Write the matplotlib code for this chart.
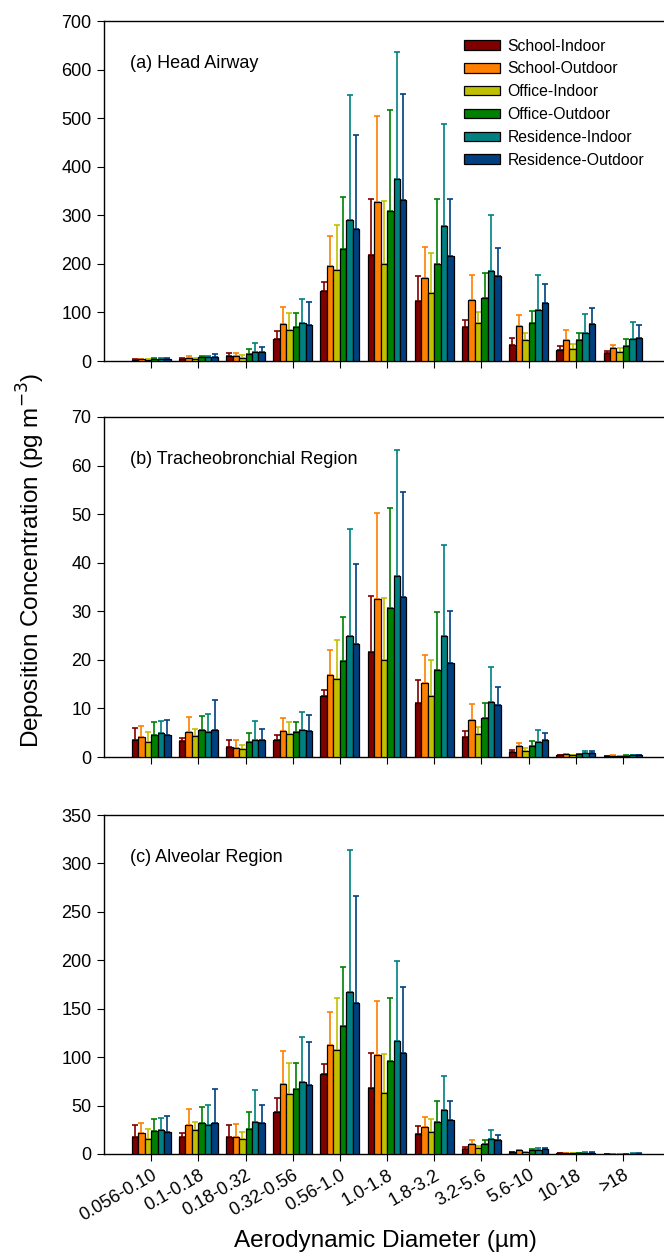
import numpy as np
import matplotlib.pyplot as plt

'''Data read off the reference chart'''
sizes = ['0.056-0.10', '0.1-0.18', '0.18-0.32', '0.32-0.56', '0.56-1.0', '1.0-1.8',
         '1.8-3.2', '3.2-5.6', '5.6-10', '10-18', '>18']
sites = ['School-Indoor', 'School-Outdoor', 'Office-Indoor', 'Office-Outdoor',
         'Residence-Indoor', 'Residence-Outdoor']
colors = ['#800000', '#ff8000', '#c0c000', '#008000', '#008080', '#004080']

# (a) Head airway: mean and top of error bar, one row per site
head_mean = [[3, 4, 10, 45, 144, 218, 124, 69, 33, 23, 17],
             [4, 6, 10, 76, 196, 327, 171, 126, 73, 43, 26],
             [3, 5, 7, 64, 188, 200, 141, 78, 43, 24, 18],
             [5, 9, 14, 70, 231, 308, 200, 129, 78, 44, 31],
             [5, 8, 18, 78, 291, 375, 278, 185, 104, 58, 45],
             [5, 8, 18, 75, 272, 332, 216, 174, 119, 76, 47]]
head_upper = [[4, 6, 17, 61, 162, 334, 176, 85, 48, 31, 21],
              [5, 10, 17, 111, 257, 505, 234, 177, 95, 64, 32],
              [4, 7, 13, 99, 281, 329, 222, 100, 58, 34, 26],
              [6, 11, 24, 99, 337, 516, 333, 181, 103, 57, 45],
              [6, 11, 38, 128, 548, 636, 487, 301, 178, 97, 80],
              [6, 15, 29, 121, 465, 550, 334, 233, 159, 109, 74]]

# (b) Tracheobronchial region
tb_mean = [[3.4, 3.2, 2.0, 3.4, 12.5, 21.6, 11.2, 4.2, 1.0, 0.4, 0.2],
           [4.2, 5.2, 1.9, 5.4, 16.9, 32.5, 15.3, 7.7, 2.2, 0.6, 0.25],
           [3.0, 4.3, 1.7, 4.7, 16.0, 19.9, 12.6, 4.7, 1.3, 0.4, 0.2],
           [4.6, 5.6, 3.0, 5.1, 19.7, 30.6, 17.9, 8.0, 2.3, 0.6, 0.3],
           [4.9, 5.2, 3.6, 5.6, 24.9, 37.2, 24.9, 11.4, 3.1, 0.75, 0.35],
           [4.5, 5.5, 3.6, 5.4, 23.3, 33.0, 19.3, 10.8, 3.6, 0.8, 0.35]]
tb_upper = [[6.0, 3.9, 3.4, 4.5, 13.8, 33.2, 15.8, 5.3, 1.5, 0.5, 0.3],
            [6.4, 8.2, 3.4, 8.0, 22.0, 50.2, 20.9, 11.0, 2.9, 0.7, 0.35],
            [5.1, 5.8, 2.5, 7.2, 24.1, 32.8, 19.9, 6.1, 1.9, 0.5, 0.3],
            [7.2, 8.5, 4.9, 7.2, 28.8, 51.3, 29.8, 11.2, 3.2, 0.7, 0.4],
            [7.5, 8.8, 7.4, 9.2, 46.9, 63.3, 43.7, 18.6, 5.5, 1.2, 0.45],
            [7.7, 11.7, 5.7, 8.7, 39.8, 54.6, 30.0, 14.4, 4.9, 1.2, 0.45]]

# (c) Alveolar region
alv_mean = [[17.2, 17.2, 17.9, 43, 82.2, 67.8, 20.3, 5.5, 1.7, 0.8, 0.3],
            [21.3, 29.9, 17.5, 71.9, 112.2, 101.9, 27.9, 10.0, 3.8, 1.0, 0.4],
            [15.1, 24.4, 15.1, 61.6, 107.4, 62.6, 23.1, 6.2, 2.1, 0.7, 0.3],
            [23.4, 31.7, 26.2, 67.4, 131.8, 96.0, 32.7, 10.3, 4.1, 1.0, 0.4],
            [24.4, 29.6, 32.7, 74, 166.9, 117, 45.8, 15.1, 4.1, 1.5, 0.5],
            [22.7, 31.7, 31.7, 70.9, 155.9, 103.9, 35.4, 14.1, 5.2, 1.4, 0.5]]
alv_upper = [[30.3, 22, 30.3, 57.8, 92.6, 104.6, 28.9, 7.2, 2.4, 1.0, 0.4],
             [32.3, 46.8, 31.0, 106, 147, 158.3, 38.5, 14.8, 4.1, 1.3, 0.5],
             [26.2, 33.4, 22.4, 94.3, 161.4, 102.9, 36.5, 8.3, 2.5, 0.9, 0.4],
             [36.1, 48.9, 43.4, 94.3, 193, 161, 54.7, 14.8, 4.8, 1.3, 0.5],
             [37.5, 50.9, 66.4, 121, 314, 199, 80.2, 25.1, 6.2, 2.0, 0.7],
             [39.2, 67.4, 50.6, 115.6, 266, 172, 54.7, 19.6, 6.2, 1.9, 0.7]]

panels = [('(a) Head Airway', head_mean, head_upper, 700, 100),
          ('(b) Tracheobronchial Region', tb_mean, tb_upper, 70, 10),
          ('(c) Alveolar Region', alv_mean, alv_upper, 350, 50)]

plt.rcParams['font.family'] = ['Liberation Sans', 'DejaVu Sans']

fig = plt.figure(figsize=(6.64, 12.59), dpi=100)
left, width = 104 / 664, 1 - 104 / 664
tops_px = [21, 417, 815]
bottoms_px = [361, 757, 1154]

x = np.arange(len(sizes))
w = 0.137

for k, (title, mean, upper, ymax, step) in enumerate(panels):
    b = 1 - bottoms_px[k] / 1259
    h = (bottoms_px[k] - tops_px[k]) / 1259
    ax = fig.add_axes([left, b, width, h])
    for i in range(len(sites)):
        m = np.array(mean[i])
        err = np.array(upper[i]) - m
        pos = x + (i - 2.5) * w
        ax.bar(pos, m, w, color=colors[i], edgecolor='black', linewidth=0.9,
               label=sites[i], zorder=3)
        ax.errorbar(pos, m, yerr=[np.zeros_like(m), err], fmt='none',
                    ecolor=colors[i], elinewidth=1.2, capsize=2.3, capthick=1.2,
                    zorder=2)
    ax.set_xlim(-1.0, 10.87)
    ax.set_ylim(0, ymax)
    ax.set_yticks(np.arange(0, ymax + 1, step))
    ax.set_xticks(x)
    ax.tick_params(direction='out', labelsize=13, length=5, pad=4)
    ax.spines['right'].set_visible(False)
    for s in ['left', 'bottom', 'top']:
        ax.spines[s].set_linewidth(1.0)
    ax.text(0.046, 0.876, title, transform=ax.transAxes, fontsize=13,
            va='center', ha='left')
    if k == 0:
        ax.legend(loc='upper right', bbox_to_anchor=(0.99, 0.99), frameon=False,
                  fontsize=11.3, handlelength=2.3, handleheight=0.55,
                  labelspacing=0.5, handletextpad=0.5)
    if k == 2:
        ax.set_xticklabels(sizes, rotation=30, ha='right', rotation_mode='anchor',
                           fontsize=13)
    else:
        ax.set_xticklabels([])

fig.text(0.047, 0.555, 'Deposition Concentration (pg m$^{-3}$)', rotation=90,
         va='center', ha='center', fontsize=17.5)
fig.text(0.58, 0.0145, 'Aerodynamic Diameter (\u00b5m)', ha='center', va='center',
         fontsize=17.5)

plt.savefig('out.png', dpi=100)
